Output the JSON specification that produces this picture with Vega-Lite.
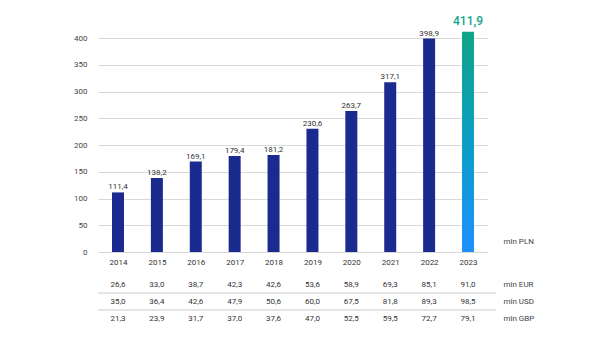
{
  "$schema": "https://vega.github.io/schema/vega-lite/v6.json",
  "background": "white",
  "padding": {"left": 73, "top": 14, "right": 0, "bottom": 0},
  "spacing": 10,
  "config": {
    "font": "Roboto",
    "view": {"stroke": null},
    "locale": {"number": {"decimal": ",", "thousands": " ", "grouping": [3], "currency": ["", " zł"]}},
    "axis": {"labelFont": "Roboto", "labelFontSize": 8, "labelColor": "#444444", "domain": false, "ticks": false, "title": null}
  },
  "datasets": {
    "pln": [
      {"year": "2014", "value": 111.4},
      {"year": "2015", "value": 138.2},
      {"year": "2016", "value": 169.1},
      {"year": "2017", "value": 179.4},
      {"year": "2018", "value": 181.2},
      {"year": "2019", "value": 230.6},
      {"year": "2020", "value": 263.7},
      {"year": "2021", "value": 317.1},
      {"year": "2022", "value": 398.9},
      {"year": "2023", "value": 411.9}
    ],
    "fx": [
      {"year": "2014", "currency": "EUR", "value": 26.6},
      {"year": "2015", "currency": "EUR", "value": 33.0},
      {"year": "2016", "currency": "EUR", "value": 38.7},
      {"year": "2017", "currency": "EUR", "value": 42.3},
      {"year": "2018", "currency": "EUR", "value": 42.6},
      {"year": "2019", "currency": "EUR", "value": 53.6},
      {"year": "2020", "currency": "EUR", "value": 58.9},
      {"year": "2021", "currency": "EUR", "value": 69.3},
      {"year": "2022", "currency": "EUR", "value": 85.1},
      {"year": "2023", "currency": "EUR", "value": 91.0},
      {"year": "2014", "currency": "USD", "value": 35.0},
      {"year": "2015", "currency": "USD", "value": 36.4},
      {"year": "2016", "currency": "USD", "value": 42.6},
      {"year": "2017", "currency": "USD", "value": 47.9},
      {"year": "2018", "currency": "USD", "value": 50.6},
      {"year": "2019", "currency": "USD", "value": 60.0},
      {"year": "2020", "currency": "USD", "value": 67.5},
      {"year": "2021", "currency": "USD", "value": 81.8},
      {"year": "2022", "currency": "USD", "value": 89.3},
      {"year": "2023", "currency": "USD", "value": 98.5},
      {"year": "2014", "currency": "GBP", "value": 21.3},
      {"year": "2015", "currency": "GBP", "value": 23.9},
      {"year": "2016", "currency": "GBP", "value": 31.7},
      {"year": "2017", "currency": "GBP", "value": 37.0},
      {"year": "2018", "currency": "GBP", "value": 37.6},
      {"year": "2019", "currency": "GBP", "value": 47.0},
      {"year": "2020", "currency": "GBP", "value": 52.5},
      {"year": "2021", "currency": "GBP", "value": 59.5},
      {"year": "2022", "currency": "GBP", "value": 72.7},
      {"year": "2023", "currency": "GBP", "value": 79.1}
    ]
  },
  "vconcat": [
    {
      "width": 398,
      "height": 214,
      "data": {"name": "pln"},
      "encoding": {
        "x": {
          "field": "year", "type": "ordinal",
          "scale": {"type": "point", "padding": 0.514, "range": [0, 390]},
          "axis": {"labelAngle": 0, "labelPadding": 6, "labelColor": "#333333"}
        }
      },
      "layer": [
        {
          "mark": {"type": "bar", "size": 12},
          "encoding": {
            "y": {
              "field": "value", "type": "quantitative",
              "scale": {"domain": [0, 400], "nice": false},
              "axis": {"values": [0, 50, 100, 150, 200, 250, 300, 350, 400], "grid": true, "gridColor": "#d9d9d9", "labelPadding": 11, "minExtent": 25, "maxExtent": 25}
            },
            "color": {
              "condition": {
                "test": "datum.year == '2023'",
                "value": {"gradient": "linear", "x1": 0, "y1": 0, "x2": 0, "y2": 1, "stops": [{"offset": 0, "color": "#10a489"}, {"offset": 0.5, "color": "#0c9ec4"}, {"offset": 1, "color": "#1e90ff"}]}
              },
              "value": "#1b2a8e"
            }
          }
        },
        {
          "transform": [{"filter": "datum.year != '2023'"}],
          "mark": {"type": "text", "baseline": "alphabetic", "dy": -3, "fontSize": 8, "color": "#333333"},
          "encoding": {
            "y": {
              "field": "value", "type": "quantitative",
              "scale": {"domain": [0, 400], "nice": false},
              "axis": {"orient": "right", "values": [20], "labelExpr": "'mln  PLN'", "labelPadding": 7, "labelColor": "#444444", "grid": false}
            },
            "text": {"field": "value", "type": "quantitative", "format": ".1f"}
          }
        },
        {
          "transform": [{"filter": "datum.year == '2023'"}],
          "mark": {"type": "text", "baseline": "alphabetic", "dy": -7, "fontSize": 12, "fontWeight": 500, "color": "#13a58b"},
          "encoding": {
            "y": {
              "field": "value", "type": "quantitative",
              "scale": {"domain": [0, 400], "nice": false},
              "axis": null
            },
            "text": {"field": "value", "type": "quantitative", "format": ".1f"}
          }
        }
      ],
      "resolve": {"scale": {"y": "independent"}, "axis": {"y": "independent"}}
    },
    {
      "width": 398,
      "height": 51,
      "data": {"name": "fx"},
      "encoding": {
        "y": {
          "field": "currency", "type": "nominal",
          "scale": {"domain": ["EUR", "USD", "GBP"], "paddingInner": 0, "paddingOuter": 0},
          "axis": {"orient": "right", "labelExpr": "'mln  ' + datum.value", "labelPadding": 7, "labelColor": "#444444", "grid": false}
        }
      },
      "layer": [
        {
          "transform": [
            {"filter": "datum.currency != 'EUR'"},
            {"aggregate": [{"op": "count", "as": "n"}], "groupby": ["currency"]}
          ],
          "mark": {"type": "rule", "color": "#cccccc", "strokeWidth": 1},
          "encoding": {
            "y": {"field": "currency", "type": "nominal", "bandPosition": 0}
          }
        },
        {
          "mark": {"type": "text", "fontSize": 8, "color": "#333333"},
          "encoding": {
            "x": {
              "field": "year", "type": "ordinal",
              "scale": {"type": "point", "padding": 0.514, "range": [0, 390]},
              "axis": null
            },
            "text": {"field": "value", "type": "quantitative", "format": ".1f"}
          }
        }
      ]
    }
  ]
}
